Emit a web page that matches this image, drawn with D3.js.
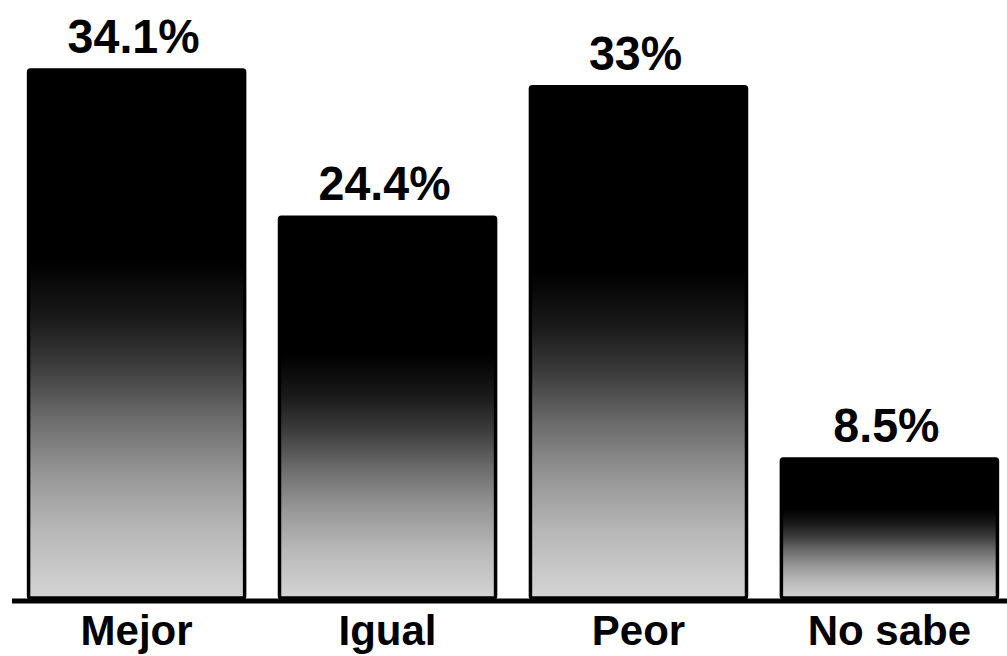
<!DOCTYPE html>
<html>
<head>
<meta charset="utf-8">
<script src="https://cdn.jsdelivr.net/npm/d3@7"></script>
<style>
  html, body { margin: 0; padding: 0; background: #fff; }
  svg { display: block; }
  text { font-family: "Liberation Sans", Arial, sans-serif; font-weight: bold; fill: #000; }
</style>
</head>
<body>
<svg width="1007" height="656"></svg>
<script>
(function (d3) {
  'use strict';

  var svg = d3.select('svg');
  var width = +svg.attr('width');
  var height = +svg.attr('height');

  // data
  var categories = ['Mejor', 'Igual', 'Peor', 'No sabe'];
  var values = [34.1, 24.4, 33, 8.5];
  var valueLabels = ['34.1%', '24.4%', '33%', '8.5%'];

  var baseY = 600;

  var x = d3.scaleBand()
      .domain(categories)
      .range([11, 1015])
      .paddingInner(0.127)
      .paddingOuter(0.064);

  // the axis line sits a little below zero
  var y = d3.scaleLinear()
      .domain([0, 34.1])
      .range([588, 70]);

  // black top fading to light grey at the bottom
  var grad = svg.append('defs').append('linearGradient')
      .attr('id', 'barGrad')
      .attr('x1', 0).attr('y1', 0)
      .attr('x2', 0).attr('y2', 1);
  var stops = [
    [0, '#000'], [0.36, '#000'], [0.47, '#1a1a1a'], [0.56, '#3c3c3c'],
    [0.66, '#6c6c6c'], [0.76, '#949494'], [0.87, '#b7b7b7'], [1, '#d4d4d4']
  ];
  grad.selectAll('stop')
      .data(stops)
      .enter()
      .append('stop')
      .attr('offset', function (d) { return d[0]; })
      .attr('stop-color', function (d) { return d[1]; });

  var g = svg.append('g');

  g.selectAll('rect')
      .data(values)
      .enter()
      .append('rect')
      .attr('x', function (d, i) { return x(categories[i]) + 1.5; })
      .attr('y', function (d) { return y(d); })
      .attr('width', x.bandwidth() - 3)
      .attr('height', function (d) { return baseY - 2 - y(d); })
      .attr('rx', 2)
      .attr('fill', 'url(#barGrad)')
      .attr('stroke', '#000')
      .attr('stroke-width', 3.5);

  // value labels
  g.selectAll('text.val')
      .data(values)
      .enter()
      .append('text')
      .attr('class', 'val')
      .attr('transform', function (d, i) {
        var cx = x(categories[i]) + x.bandwidth() / 2 - 3;
        return 'translate(' + cx + ',' + (y(d) - 17) + ') scale(0.95,1)';
      })
      .attr('text-anchor', 'middle')
      .style('font-size', '49px')
      .text(function (d, i) { return valueLabels[i]; });

  // baseline
  svg.append('line')
      .attr('x1', 12)
      .attr('x2', width)
      .attr('y1', baseY + 1)
      .attr('y2', baseY + 1)
      .attr('stroke', '#000')
      .attr('stroke-width', 5);

  // category labels
  svg.append('g').selectAll('text')
      .data(categories)
      .enter()
      .append('text')
      .attr('x', function (d) { return x(d) + x.bandwidth() / 2; })
      .attr('y', 645)
      .attr('text-anchor', 'middle')
      .style('font-size', '42px')
      .text(function (d) { return d; });

}(d3));
</script>
</body>
</html>
